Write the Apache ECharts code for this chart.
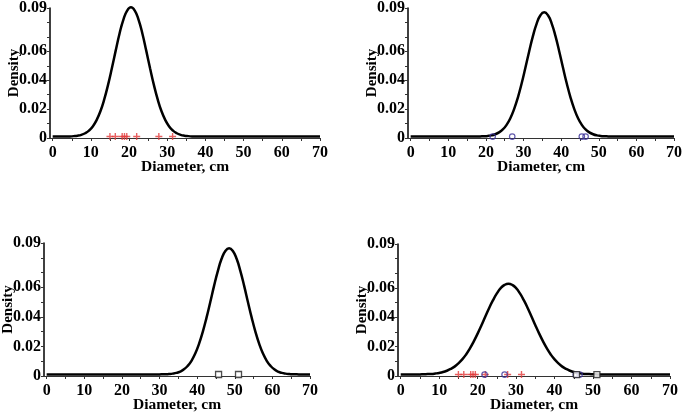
<!DOCTYPE html>
<html><head><meta charset="utf-8">
<script src="https://cdn.jsdelivr.net/npm/echarts@6/dist/echarts.min.js"></script>
<style>html,body{margin:0;padding:0;background:#fff}#c{width:685px;height:414px}</style>
</head><body><div id="c"></div>
<script>
// ---- data ----
const xTickLabels = [0, 10, 20, 30, 40, 50, 60, 70];
const yTickLabels = [0, 0.02, 0.04, 0.06, 0.09];
const yTicks = [0, 0.01, 0.02, 0.03, 0.04, 0.05, 0.06, 0.07, 0.08, 0.09];
const markerLevel = 0.001;

// observed diameters
const groupPlus = [15.0, 16.4, 18.2, 18.8, 19.4, 22.0, 27.8, 31.4];
const groupCircle = [21.8, 27.0, 45.5, 46.5];
const groupSquare = [45.7, 51.0];

// density curves [diameter, density]
const curve1 = [[0,0.0010],[2.5,0.0010],[3.5,0.0010],[4.5,0.0011],[5.5,0.0013],[6.5,0.0016],[7.5,0.0022],[8.5,0.0033],[9.5,0.0051],[10.5,0.0080],[11.5,0.0124],[12.5,0.0185],[13.5,0.0267],[14.5,0.0368],[15.5,0.0483],[16.5,0.0605],[17.5,0.0722],[18.5,0.0818],[19.5,0.0882],[20.5,0.0905],[21.5,0.0882],[22.5,0.0818],[23.5,0.0722],[24.5,0.0605],[25.5,0.0483],[26.5,0.0368],[27.5,0.0267],[28.5,0.0185],[29.5,0.0124],[30.5,0.0080],[31.5,0.0051],[32.5,0.0033],[33.5,0.0022],[34.5,0.0016],[35.5,0.0013],[36.5,0.0011],[37.5,0.0010],[38.5,0.0010],[70,0.0010]];
const curve2 = [[0,0.0010],[17.5,0.0010],[18.5,0.0011],[19.5,0.0012],[20.5,0.0014],[21.5,0.0018],[22.5,0.0026],[23.5,0.0039],[24.5,0.0059],[25.5,0.0091],[26.5,0.0137],[27.5,0.0200],[28.5,0.0280],[29.5,0.0377],[30.5,0.0486],[31.5,0.0599],[32.5,0.0705],[33.5,0.0792],[34.5,0.0850],[35.5,0.0870],[36.5,0.0850],[37.5,0.0792],[38.5,0.0705],[39.5,0.0599],[40.5,0.0486],[41.5,0.0377],[42.5,0.0280],[43.5,0.0200],[44.5,0.0137],[45.5,0.0091],[46.5,0.0059],[47.5,0.0039],[48.5,0.0026],[49.5,0.0018],[50.5,0.0014],[51.5,0.0012],[52.5,0.0011],[53.5,0.0010],[70,0.0010]];
const curve3 = [[0,0.0010],[29.5,0.0010],[30.5,0.0011],[31.5,0.0011],[32.5,0.0013],[33.5,0.0016],[34.5,0.0021],[35.5,0.0030],[36.5,0.0045],[37.5,0.0069],[38.5,0.0103],[39.5,0.0152],[40.5,0.0217],[41.5,0.0299],[42.5,0.0395],[43.5,0.0501],[44.5,0.0610],[45.5,0.0710],[46.5,0.0793],[47.5,0.0846],[48.5,0.0865],[49.5,0.0846],[50.5,0.0793],[51.5,0.0710],[52.5,0.0610],[53.5,0.0501],[54.5,0.0395],[55.5,0.0299],[56.5,0.0217],[57.5,0.0152],[58.5,0.0103],[59.5,0.0069],[60.5,0.0045],[61.5,0.0030],[62.5,0.0021],[63.5,0.0016],[64.5,0.0013],[65.5,0.0011],[66.5,0.0011],[67.5,0.0010],[70,0.0010]];
const curve4 = [[0,0.0010],[3,0.0010],[4,0.0010],[5,0.0011],[6,0.0012],[7,0.0013],[8,0.0014],[9,0.0017],[10,0.0021],[11,0.0027],[12,0.0036],[13,0.0048],[14,0.0064],[15,0.0086],[16,0.0113],[17,0.0147],[18,0.0188],[19,0.0236],[20,0.0289],[21,0.0346],[22,0.0406],[23,0.0464],[24,0.0517],[25,0.0563],[26,0.0599],[27,0.0621],[28,0.0629],[29,0.0621],[30,0.0599],[31,0.0563],[32,0.0517],[33,0.0464],[34,0.0406],[35,0.0346],[36,0.0289],[37,0.0236],[38,0.0188],[39,0.0147],[40,0.0113],[41,0.0086],[42,0.0064],[43,0.0048],[44,0.0036],[45,0.0027],[46,0.0021],[47,0.0017],[48,0.0014],[49,0.0013],[50,0.0012],[51,0.0011],[52,0.0010],[70,0.0010]];

const xTitle = 'Diameter, cm';
const yTitle = 'Density';

// ---- layout / style ----
const FONT = '"Liberation Serif", "Times New Roman", serif';
const grids = [
  {left: 50, top: 3, width: 270, height: 135},
  {left: 408, top: 5, width: 270, height: 133},
  {left: 40, top: 243, width: 270, height: 135},
  {left: 398, top: 244, width: 272, height: 135}
];
const curves = [curve1, curve2, curve3, curve4];
const markerSets = [['plus'], ['circle'], ['square'], ['plus', 'circle', 'square']];
const groups = {plus: groupPlus, circle: groupCircle, square: groupSquare};
const markerStyle = {
  plus: {symbol: 'path://M4,0h2v4h4v2h-4v4h-2v-4h-4v-2h4z', symbolSize: 7, itemStyle: {color: '#e23a3a'}},
  circle: {symbol: 'circle', symbolSize: 5.5, itemStyle: {color: 'rgba(255,255,255,0)', borderColor: '#3b3199', borderWidth: 1.2}},
  square: {symbol: 'rect', symbolSize: 6, itemStyle: {color: '#ffffff', borderColor: '#222', borderWidth: 1.3}}
};

const xAxes = [], yAxes = [], series = [];
grids.forEach((g, i) => {
  xAxes.push({
    type: 'value', gridIndex: i, min: -0.7, max: 70,
    name: xTitle, nameLocation: 'middle', nameGap: 21, nameMoveOverlap: false,
    nameTextStyle: {fontFamily: FONT, fontWeight: 'bold', fontSize: 15.5, color: '#000'},
    axisLine: {onZero: false, lineStyle: {color: '#333', width: 1}},
    axisTick: {show: true, length: 3, lineStyle: {color: '#333'}, customValues: [0,5,10,15,20,25,30,35,40,45,50,55,60,65,70]},
    axisLabel: {customValues: xTickLabels, margin: 7, fontFamily: FONT, fontWeight: 'bold', fontSize: 16, color: '#000'},
    splitLine: {show: false}
  });
  yAxes.push({
    type: 'value', gridIndex: i, min: 0, max: 0.09,
    name: yTitle, nameLocation: 'middle', nameGap: 28, nameMoveOverlap: false,
    nameTextStyle: {fontFamily: FONT, fontWeight: 'bold', fontSize: 15, color: '#000'},
    axisLine: {onZero: false, lineStyle: {color: '#000', width: 1.5}},
    axisTick: {show: true, length: 3, lineStyle: {color: '#333'}, customValues: yTicks},
    axisLabel: {customValues: yTickLabels, margin: 3, fontFamily: FONT, fontWeight: 'bold', fontSize: 16, color: '#000',
      formatter: v => (Math.abs(v) < 1e-9 ? '0' : v.toFixed(2))},
    splitLine: {show: false}
  });
  series.push({
    type: 'line', xAxisIndex: i, yAxisIndex: i, data: curves[i], smooth: true,
    showSymbol: false, clip: false, lineStyle: {color: '#000', width: 2.5}, z: 2
  });
  markerSets[i].forEach(k => {
    series.push(Object.assign({
      type: 'scatter', xAxisIndex: i, yAxisIndex: i, z: 5, clip: false,
      data: groups[k].map(x => [x, markerLevel])
    }, markerStyle[k]));
  });
});

const chart = echarts.init(document.getElementById('c'), null, {renderer: 'canvas'});
chart.setOption({
  animation: false,
  backgroundColor: '#fff',
  grid: grids,
  xAxis: xAxes,
  yAxis: yAxes,
  series: series
});
</script></body></html>
